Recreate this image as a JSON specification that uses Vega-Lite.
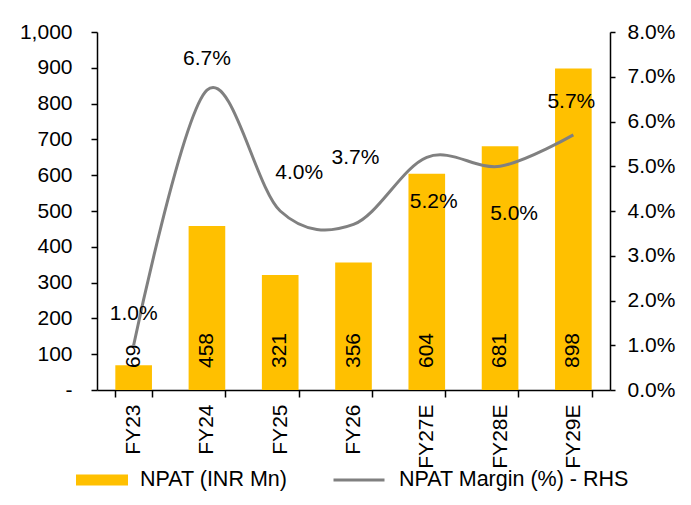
{
  "$schema": "https://vega.github.io/schema/vega-lite/v6.json",
  "width": 513,
  "height": 358,
  "autosize": "none",
  "padding": {"left": 97, "top": 32, "right": 81, "bottom": 115},
  "background": "white",
  "data": {
    "values": [
      {"year": "FY23", "npat": 69, "margin": 0.010},
      {"year": "FY24", "npat": 458, "margin": 0.067},
      {"year": "FY25", "npat": 321, "margin": 0.040},
      {"year": "FY26", "npat": 356, "margin": 0.037},
      {"year": "FY27E", "npat": 604, "margin": 0.052},
      {"year": "FY28E", "npat": 681, "margin": 0.050},
      {"year": "FY29E", "npat": 898, "margin": 0.057}
    ]
  },
  "encoding": {
    "x": {
      "field": "year",
      "type": "nominal",
      "sort": null,
      "scale": {"paddingInner": 0.5, "paddingOuter": 0.25},
      "axis": {
        "title": null,
        "labelAngle": -90,
        "labelAlign": "right",
        "labelBaseline": "middle",
        "tickBand": "extent",
        "tickSize": 7,
        "labelPadding": 7
      }
    }
  },
  "layer": [
    {
      "layer": [
        {
          "mark": {"type": "bar", "color": "#FFC000"},
          "encoding": {
            "y": {
              "field": "npat",
              "type": "quantitative",
              "scale": {"domain": [0, 1000], "nice": false},
              "axis": {
                "title": null,
                "orient": "left",
                "values": [0, 100, 200, 300, 400, 500, 600, 700, 800, 900, 1000],
                "labelExpr": "datum.value == 0 ? '-' : format(datum.value, ',')",
                "tickSize": 6,
                "labelPadding": 19,
                "labelOverlap": false,
                "labelFlush": false,
                "grid": false
              }
            },
            "color": {
              "datum": "NPAT (INR Mn)",
              "scale": {"range": ["#FFC000"]},
              "legend": {
                "orient": "none",
                "legendX": -21,
                "legendY": 422,
                "title": null,
                "padding": 0,
                "symbolType": "M-1,-0.21H1V0.21H-1Z",
                "symbolSize": 2704,
                "symbolStrokeWidth": 0,
                "labelOffset": 12,
                "labelLimit": 400,
                "labelFontSize": 21.5
              }
            }
          }
        },
        {
          "mark": {"type": "text", "angle": 270, "align": "left", "baseline": "middle", "dx": 22, "fontSize": 21, "color": "black"},
          "encoding": {
            "y": {
              "datum": 0,
              "type": "quantitative",
              "axis": {
                "title": null,
                "orient": "left",
                "values": [0, 100, 200, 300, 400, 500, 600, 700, 800, 900, 1000],
                "labelExpr": "datum.value == 0 ? '-' : format(datum.value, ',')",
                "tickSize": 6,
                "labelPadding": 19,
                "labelOverlap": false,
                "labelFlush": false,
                "grid": false
              }
            },
            "text": {"field": "npat", "type": "quantitative", "format": "d"}
          }
        }
      ]
    },
    {
      "layer": [
        {
          "mark": {"type": "line", "interpolate": "cardinal", "strokeWidth": 3},
          "encoding": {
            "y": {
              "field": "margin",
              "type": "quantitative",
              "scale": {"domain": [0, 0.08], "nice": false},
              "axis": {
                "title": null,
                "orient": "right",
                "values": [0, 0.01, 0.02, 0.03, 0.04, 0.05, 0.06, 0.07, 0.08],
                "format": ".1%",
                "tickSize": 5,
                "labelPadding": 12,
                "labelOverlap": false,
                "labelFlush": false,
                "grid": false
              }
            },
            "stroke": {
              "datum": "NPAT Margin (%) - RHS",
              "scale": {"range": ["#808080"]},
              "legend": {
                "orient": "none",
                "legendX": 235,
                "legendY": 421,
                "title": null,
                "padding": 0,
                "symbolType": "stroke",
                "symbolSize": 2601,
                "symbolStrokeWidth": 3,
                "labelOffset": 13,
                "labelLimit": 400,
                "labelFontSize": 21.5
              }
            }
          }
        },
        {
          "transform": [{"filter": "datum.year == 'FY23' || datum.year == 'FY24'"}],
          "mark": {"type": "text", "dy": -31, "fontSize": 21, "color": "black"},
          "encoding": {"y": {"field": "margin", "type": "quantitative"}, "text": {"field": "margin", "type": "quantitative", "format": ".1%"}}
        },
        {
          "transform": [{"filter": "datum.year == 'FY25'"}],
          "mark": {"type": "text", "dx": 19, "dy": -38, "fontSize": 21, "color": "black"},
          "encoding": {"y": {"field": "margin", "type": "quantitative"}, "text": {"field": "margin", "type": "quantitative", "format": ".1%"}}
        },
        {
          "transform": [{"filter": "datum.year == 'FY26'"}],
          "mark": {"type": "text", "dx": 2, "dy": -66, "fontSize": 21, "color": "black"},
          "encoding": {"y": {"field": "margin", "type": "quantitative"}, "text": {"field": "margin", "type": "quantitative", "format": ".1%"}}
        },
        {
          "transform": [{"filter": "datum.year == 'FY27E'"}],
          "mark": {"type": "text", "dx": 7, "dy": 45, "fontSize": 21, "color": "black"},
          "encoding": {"y": {"field": "margin", "type": "quantitative"}, "text": {"field": "margin", "type": "quantitative", "format": ".1%"}}
        },
        {
          "transform": [{"filter": "datum.year == 'FY28E'"}],
          "mark": {"type": "text", "dx": 14, "dy": 48, "fontSize": 21, "color": "black"},
          "encoding": {"y": {"field": "margin", "type": "quantitative"}, "text": {"field": "margin", "type": "quantitative", "format": ".1%"}}
        },
        {
          "transform": [{"filter": "datum.year == 'FY29E'"}],
          "mark": {"type": "text", "dx": -2, "dy": -33, "fontSize": 21, "color": "black"},
          "encoding": {"y": {"field": "margin", "type": "quantitative"}, "text": {"field": "margin", "type": "quantitative", "format": ".1%"}}
        }
      ]
    }
  ],
  "resolve": {"scale": {"y": "independent"}},
  "config": {
    "font": "Liberation Sans",
    "view": {"stroke": null},
    "axis": {
      "labelFont": "Liberation Sans",
      "labelFontSize": 21,
      "labelColor": "black",
      "labelOverlap": false,
      "domainColor": "black",
      "domainWidth": 1.5,
      "tickColor": "black",
      "tickWidth": 1.5
    },
    "axisY": {"labelOverlap": false},
    "legend": {
      "labelFont": "Liberation Sans",
      "labelColor": "black",
      "labelFontSize": 21
    },
    "text": {"font": "Liberation Sans"}
  }
}
